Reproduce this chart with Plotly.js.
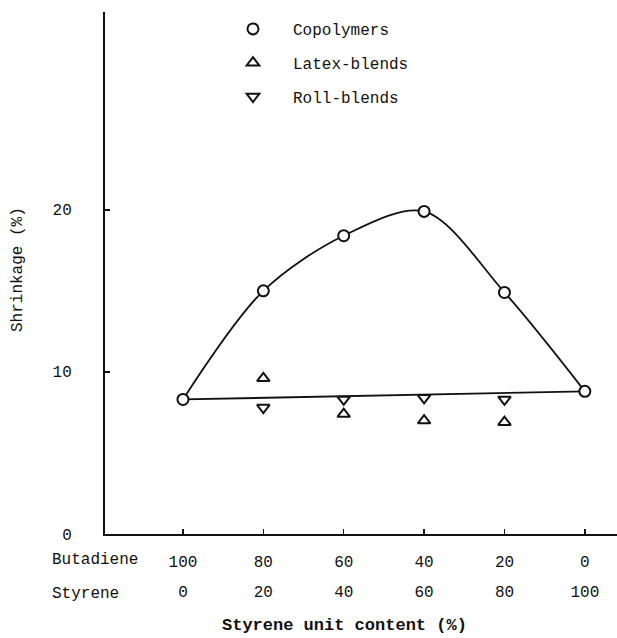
<!DOCTYPE html>
<html>
<head>
<meta charset="utf-8">
<script src="https://cdn.plot.ly/plotly-3.0.1.min.js"></script>
<style>html,body{margin:0;padding:0;background:#fff;}#chart{width:617px;height:638px;}</style>
</head>
<body>
<div id="chart"></div>
<script>
// Styrene unit content (%)
const styrene = [0, 20, 40, 60, 80, 100];
const butadieneLabels = ['100', '80', '60', '40', '20', '0'];
const styreneLabels = ['0', '20', '40', '60', '80', '100'];

// Shrinkage (%)
const copolymers = [8.3, 15.0, 18.4, 19.9, 14.9, 8.8];
const latexX = [20, 40, 60, 80];
const latexBlends = [9.6, 7.4, 7.0, 6.9];
const rollX = [20, 40, 60, 80];
const rollBlends = [7.8, 8.3, 8.4, 8.3];

const FONT = '"Liberation Mono", "Courier New", monospace';
const INK = '#111';

const traces = [
  {x: styrene, y: copolymers, mode: 'lines', line: {color: INK, width: 1.8, shape: 'spline', smoothing: 0.9}, showlegend: false, hoverinfo: 'skip'},
  {x: [styrene[0], styrene[styrene.length - 1]], y: [copolymers[0], copolymers[copolymers.length - 1]], mode: 'lines', line: {color: INK, width: 1.8}, showlegend: false, hoverinfo: 'skip'},
  {x: styrene, y: copolymers, mode: 'markers', name: 'Copolymers', legendgroup: 'a',
   marker: {symbol: 'circle', size: 11, color: '#fff', line: {color: INK, width: 2}}},
  {x: latexX, y: latexBlends, mode: 'markers', name: 'Latex-blends', legendgroup: 'b',
   marker: {symbol: 'triangle-up', size: 11, color: '#fff', line: {color: INK, width: 2}}},
  {x: rollX, y: rollBlends, mode: 'markers', name: 'Roll-blends', legendgroup: 'c',
   marker: {symbol: 'triangle-down', size: 11, color: '#fff', line: {color: INK, width: 2}}},
  // invisible trace to carry the second row of tick labels
  {x: styrene, y: copolymers, xaxis: 'x2', mode: 'markers', marker: {opacity: 0}, showlegend: false, hoverinfo: 'skip'}
];

const layout = {
  width: 617, height: 638,
  margin: {l: 105, r: 0, t: 12, b: 104},
  paper_bgcolor: '#fff', plot_bgcolor: '#fff',
  font: {family: FONT, size: 16, color: INK},
  showlegend: true,
  legend: {x: 0.25 - 20 / 512, y: 1.0, xanchor: 'left', yanchor: 'top', bgcolor: 'rgba(0,0,0,0)',
           font: {family: FONT, size: 16, color: INK}, tracegroupgap: 10, itemwidth: 70},
  xaxis: {
    range: [-19.4, 108], showgrid: false, zeroline: false,
    showline: true, linecolor: INK, linewidth: 2,
    ticks: 'inside', ticklen: 5, tickwidth: 1.5, tickcolor: INK,
    tickvals: styrene, ticktext: butadieneLabels, ticklabelstandoff: 12,
    tickfont: {family: FONT, size: 16, color: INK}
  },
  xaxis2: {
    overlaying: 'x', anchor: 'y', side: 'bottom', range: [-19.4, 108],
    showgrid: false, zeroline: false, showline: false, ticks: '',
    tickvals: styrene, ticktext: styreneLabels, ticklabelstandoff: 46,
    tickfont: {family: FONT, size: 16, color: INK}
  },
  yaxis: {
    range: [0, 32.2], showgrid: false, zeroline: false,
    showline: true, linecolor: INK, linewidth: 2,
    ticks: 'inside', ticklen: 5, tickwidth: 1.5, tickcolor: INK,
    tickvals: [0, 10, 20], ticktext: ['0', '10', '20'], ticklabelstandoff: 28,
    tickfont: {family: FONT, size: 16, color: INK}
  },
  annotations: [
    {text: 'Butadiene', xref: 'paper', yref: 'paper', x: (95 - 105) / 512, y: -(560 - 534) / 522,
     xanchor: 'center', yanchor: 'middle', showarrow: false, font: {family: FONT, size: 16, color: INK}},
    {text: 'Styrene', xref: 'paper', yref: 'paper', x: (50 - 105) / 512, y: -(594 - 534) / 522,
     xanchor: 'left', yanchor: 'middle', showarrow: false, font: {family: FONT, size: 16, color: INK}},
    {text: 'Styrene unit content (%)', xref: 'paper', yref: 'paper', x: (344 - 105) / 512, y: -(625 - 534) / 522,
     xanchor: 'center', yanchor: 'middle', showarrow: false, font: {family: FONT, size: 17, color: INK, weight: 'bold'}},
    {text: 'Shrinkage (%)', xref: 'paper', yref: 'paper', x: (18 - 105) / 512, y: (534 - 270) / 522,
     xanchor: 'center', yanchor: 'middle', textangle: -90, showarrow: false, font: {family: FONT, size: 16, color: INK}}
  ]
};

Plotly.newPlot('chart', traces, layout, {displayModeBar: false, staticPlot: true});
</script>
</body>
</html>
